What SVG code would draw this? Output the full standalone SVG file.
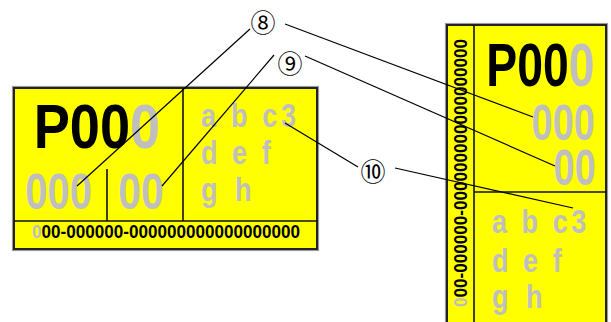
<svg xmlns="http://www.w3.org/2000/svg" width="611" height="322" viewBox="0 0 611 322">
<style>
.panel{fill:#ffff00;stroke:#222;stroke-width:2}
.shadow{fill:none;stroke:#9a9a9a;stroke-width:1.2}
.div{stroke:#111;stroke-width:1.6;fill:none}
.big{font-family:"Liberation Sans",Arial,sans-serif;font-weight:bold;fill:#000}
.gray{fill:#bfbfbf}
.low{font-family:"Liberation Sans",Arial,sans-serif;font-size:33px;font-weight:bold;fill:#bfbfbf}
.strip{font-family:"Liberation Sans",Arial,sans-serif;font-size:18px;font-weight:bold;fill:#000}
.lead{stroke:#000;stroke-width:1.2;fill:none}
.num{font-family:"Noto Sans CJK JP","DejaVu Sans",sans-serif;font-size:25px;fill:#000;text-anchor:middle}
</style>
<g id="panel-left">
<rect class="shadow" x="12.5" y="86.5" width="306" height="164"/>
<rect class="panel" x="14" y="88" width="303" height="161"/>
<line class="div" x1="183" y1="88" x2="183" y2="221"/>
<line class="div" x1="107" y1="169" x2="107" y2="221"/>
<line class="div" x1="14" y1="221" x2="317" y2="221"/>
<text class="big" font-size="63" transform="translate(33.7,148) scale(0.86,1)">P00<tspan class="gray">0</tspan></text>
<text class="big gray" font-size="50" transform="translate(25.3,209) scale(0.8,1)">000</text>
<text class="big gray" font-size="50" transform="translate(118.3,209) scale(0.82,1)">00</text>
<text class="low" transform="translate(201,127) scale(0.82,1)" textLength="116" lengthAdjust="spacing">a b c3</text>
<text class="low" transform="translate(201,164) scale(0.82,1)" textLength="85" lengthAdjust="spacing">d e f</text>
<text class="low" transform="translate(201,201) scale(0.82,1)" textLength="61.5" lengthAdjust="spacing">g h</text>
<text class="strip" x="32" y="238" textLength="268" lengthAdjust="spacingAndGlyphs"><tspan class="gray">0</tspan>00-000000-000000000000000000</text>
</g>
<g id="panel-right">
<rect class="shadow" x="445.5" y="23.5" width="162" height="310"/>
<rect class="panel" x="447" y="25" width="159" height="310"/>
<line class="div" x1="474" y1="25" x2="474" y2="335"/>
<line class="div" x1="474" y1="192" x2="606" y2="192"/>
<text class="big" font-size="61" transform="translate(486.3,86) scale(0.76,1)">P00<tspan class="gray">0</tspan></text>
<text class="big gray" font-size="50" transform="translate(531.5,140) scale(0.76,1)">000</text>
<text class="big gray" font-size="50" transform="translate(553.5,185) scale(0.76,1)">00</text>
<text class="low" transform="translate(492,233) scale(0.82,1)" textLength="115" lengthAdjust="spacing">a b c3</text>
<text class="low" transform="translate(492,272) scale(0.82,1)" textLength="85" lengthAdjust="spacing">d e f</text>
<text class="low" transform="translate(492,308) scale(0.82,1)" textLength="61.5" lengthAdjust="spacing">g h</text>
<text class="strip" transform="translate(467,307) rotate(-90)" x="0" y="0" textLength="268" lengthAdjust="spacingAndGlyphs"><tspan class="gray">0</tspan>00-000000-000000000000000000</text>
</g>
<g id="connectors">
<line class="lead" x1="250" y1="29" x2="77" y2="186"/>
<line class="lead" x1="285" y1="24" x2="533" y2="117"/>
<line class="lead" x1="274" y1="55" x2="162" y2="186"/>
<line class="lead" x1="305" y1="56" x2="555" y2="166"/>
<line class="lead" x1="358" y1="167" x2="285" y2="123"/>
<line class="lead" x1="395" y1="168" x2="573" y2="208"/>
</g>
<g id="callout-8"><text class="num" x="263" y="32">⑧</text></g>
<g id="callout-9"><text class="num" x="290" y="73">⑨</text></g>
<g id="callout-10"><text class="num" x="373" y="181">⑩</text></g>
</svg>
